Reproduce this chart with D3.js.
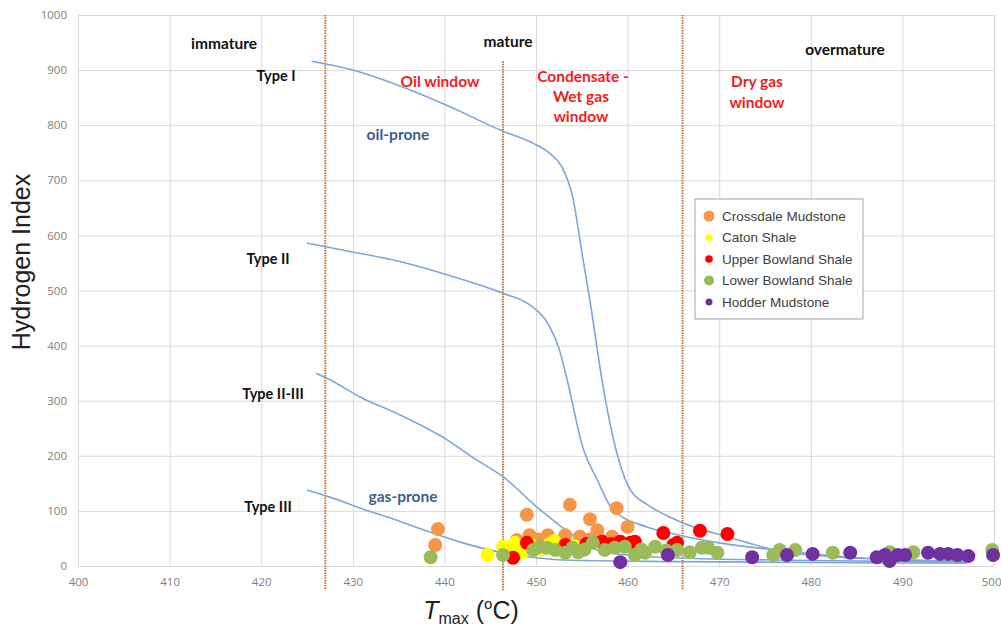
<!DOCTYPE html>
<html>
<head>
<meta charset="utf-8">
<script src="https://cdn.jsdelivr.net/npm/d3@7"></script>
<style>
  body { margin: 0; background: #fff; }
  svg { display: block; }
  .tick text { font-family: 'Open Sans', sans-serif; font-size: 11.5px; fill: #808080; }
  .note { font-family: Lato, sans-serif; font-weight: 700; }
</style>
</head>
<body>
<div id="chart"></div>
<script>
// ---- data ----
const xTicks = [400, 410, 420, 430, 440, 450, 460, 470, 480, 490, 500];
const yTicks = [0, 100, 200, 300, 400, 500, 600, 700, 800, 900, 1000];

// kerogen type curves [Tmax, HI]
const typeI = [[425.5, 916], [430, 900], [435, 872], [440, 838], [446.4, 789], [449.7, 767], [451.5, 749], [452.8, 725], [454, 670], [455.1, 560], [456, 470], [457.2, 338], [458.8, 207], [460.3, 138], [462.1, 112], [464.2, 92], [467, 72], [470.9, 53], [476.3, 28], [484, 15], [497, 9]];
const typeII = [[425, 586], [430, 570], [435, 553], [440, 530], [446.4, 495], [449.3, 474], [451.3, 440], [452.5, 395], [453.4, 338], [455.1, 216], [456.7, 156], [458.4, 102], [462.1, 71], [464.6, 60], [470, 42], [476.3, 29], [485, 15], [497, 8]];
const typeII_III = [[426, 350], [427.5, 338], [431, 305], [434.8, 277], [440.3, 229], [443, 198], [446.4, 162], [450.1, 107], [453.7, 60], [456.7, 29], [460, 20], [465, 15], [480, 10], [497, 7]];
const typeIII = [[425, 138], [427.5, 125], [431, 104], [434.8, 83], [438, 64], [442, 42], [446.4, 24], [450, 15], [453, 11], [465, 8], [497, 5]];

// maturity boundaries [Tmax, top HI]
const boundaries = [[427.0, 1000], [446.4, 916], [466.0, 1000]];

// samples [Tmax, HI]
const crossdale = [[439.3, 67], [439.0, 38], [449.0, 93], [453.7, 111], [455.9, 85], [456.7, 65], [458.8, 105], [460.0, 71], [451.3, 51], [453.2, 56], [454.8, 53], [458.3, 53], [447.9, 47], [449.3, 56], [451.3, 56], [457.0, 47], [452.6, 43], [455.8, 48], [450.2, 48]];
const caton = [[444.7, 20], [446.4, 35], [447.7, 42], [448.5, 25], [449.5, 38], [450.5, 30], [455.1, 29], [452.0, 45], [447.0, 30], [451.5, 40], [454.2, 36]];
const upperBowland = [[449.0, 42], [447.5, 15], [453.2, 38], [457.2, 44], [459.2, 44], [460.3, 42], [460.8, 44], [463.9, 60], [465.0, 38], [467.9, 64], [470.9, 58], [465.4, 42], [455.5, 40], [458.2, 40]];
const lowerBowland = [[438.5, 16], [446.4, 20], [449.7, 29], [450.4, 35], [451.2, 33], [452.1, 29], [453.2, 24], [454.0, 33], [454.6, 25], [455.3, 30], [456.2, 42], [457.5, 29], [458.6, 33], [459.7, 35], [460.8, 20], [461.5, 30], [463.0, 35], [461.9, 24], [464.2, 28], [465.4, 29], [466.8, 25], [468.1, 33], [468.8, 33], [469.8, 24], [475.9, 20], [476.6, 29], [478.3, 29], [482.4, 24], [488.6, 25], [491.2, 25], [499.8, 29]];
const hodder = [[459.2, 7], [464.4, 20], [473.6, 16], [477.4, 20], [480.2, 22], [484.3, 24], [487.2, 16], [488.6, 9], [488.1, 20], [489.5, 20], [490.3, 20], [492.8, 24], [494.1, 22], [495.0, 22], [496.0, 20], [497.2, 18], [499.9, 20]];

const series = [
  { name: 'Crossdale Mudstone', color: '#f79646', values: crossdale, key: 5.5 },
  { name: 'Caton Shale', color: '#ffff00', values: caton, key: 3.5 },
  { name: 'Upper Bowland Shale', color: '#ff0000', values: upperBowland, key: 3.8 },
  { name: 'Lower Bowland Shale', color: '#9bbb59', values: lowerBowland, key: 5 },
  { name: 'Hodder Mudstone', color: '#7030a0', values: hodder, key: 3.5 },
];

// ---- layout ----
const W = 1001, H = 628;

const x = d3.scaleLinear().domain([400, 500]).range([78, 994]);
const y = d3.scaleLinear().domain([0, 1000]).range([566, 15]);

const svg = d3.select('#chart').append('svg').attr('width', W).attr('height', H);

// gridlines + axes
svg.append('g')
  .attr('class', 'axis y')
  .attr('transform', `translate(${x(400)},0)`)
  .call(d3.axisLeft(y).tickValues(yTicks).tickFormat(d3.format('d'))
    .tickSize(-(x(500) - x(400))).tickPadding(11))
  .call((g) => g.select('.domain').remove())
  .call((g) => g.selectAll('.tick line').attr('stroke', '#d9d9d9'));

svg.append('g')
  .attr('class', 'axis x')
  .attr('transform', `translate(0,${y(0)})`)
  .call(d3.axisBottom(x).tickValues(xTicks).tickSize(-(y(0) - y(1000))).tickPadding(12))
  .call((g) => g.select('.domain').remove())
  .call((g) => g.selectAll('.tick line').attr('stroke', '#d9d9d9'))
  // last label sits at the page edge, keep it inside
  .call((g) => g.selectAll('.tick text').filter((d) => d === 500)
    .attr('text-anchor', 'end').attr('dx', 7));

// maturity boundaries (dotted brown)
svg.append('g')
  .selectAll('line')
  .data(boundaries)
  .join('line')
  .attr('x1', (d) => x(d[0]))
  .attr('x2', (d) => x(d[0]))
  .attr('y1', (d) => y(d[1]))
  .attr('y2', y(-44))
  .attr('stroke', '#c5763f')
  .attr('stroke-width', 2)
  .attr('stroke-dasharray', '1.5,1');

// kerogen curves
const line = d3.line()
  .x((d) => x(d[0]))
  .y((d) => y(d[1]))
  .curve(d3.curveMonotoneX);

svg.append('g')
  .selectAll('path')
  .data([typeI, typeII, typeII_III, typeIII])
  .join('path')
  .attr('d', line)
  .attr('fill', 'none')
  .attr('stroke', '#7ea6d6')
  .attr('stroke-width', 1.6);

// samples
const pts = svg.append('g');
series.forEach((s) => {
  pts.append('g')
    .selectAll('circle')
    .data(s.values)
    .join('circle')
    .attr('cx', (d) => x(d[0]))
    .attr('cy', (d) => y(d[1]))
    .attr('r', 7)
    .attr('fill', s.color);
});

// annotations
const notes = [
  { t: 'immature', x: 224, y: 49, c: '#111' },
  { t: 'mature', x: 508, y: 47, c: '#111' },
  { t: 'overmature', x: 845, y: 55, c: '#111' },
  { t: 'Type I', x: 276, y: 81, c: '#111', s: 14.5 },
  { t: 'Type II', x: 268, y: 264, c: '#111', s: 14.5 },
  { t: 'Type II-III', x: 273, y: 399, c: '#111', s: 14.5 },
  { t: 'Type III', x: 268, y: 512, c: '#111', s: 14.5 },
  { t: 'Oil window', x: 440, y: 87, c: '#f21c1c' },
  { t: 'Condensate -', x: 583, y: 82, c: '#f21c1c' },
  { t: 'Wet gas', x: 581, y: 102, c: '#f21c1c' },
  { t: 'window', x: 581, y: 122, c: '#f21c1c' },
  { t: 'Dry gas', x: 757, y: 87, c: '#f21c1c' },
  { t: 'window', x: 757, y: 108, c: '#f21c1c' },
  { t: 'oil-prone', x: 398, y: 140, c: '#3b5d8e' },
  { t: 'gas-prone', x: 403, y: 502, c: '#3b5d8e' },
];

svg.append('g')
  .selectAll('text')
  .data(notes)
  .join('text')
  .attr('class', 'note')
  .attr('x', (d) => d.x)
  .attr('y', (d) => d.y)
  .attr('text-anchor', 'middle')
  .attr('fill', (d) => d.c)
  .style('font-size', (d) => `${d.s || 15.5}px`)
  .text((d) => d.t);

// legend
const legend = svg.append('g').attr('transform', 'translate(695,199)');
legend.append('rect')
  .attr('width', 168)
  .attr('height', 120)
  .attr('fill', '#fff')
  .attr('stroke', '#a6a6a6');

const rows = legend.selectAll('g.row')
  .data(series)
  .join('g')
  .attr('class', 'row')
  .attr('transform', (d, i) => `translate(0,${17 + i * 21.5})`);

rows.append('circle').attr('cx', 14).attr('r', (d) => d.key).attr('fill', (d) => d.color);
rows.append('text')
  .attr('x', 27)
  .attr('dy', '0.35em')
  .style('font-family', "'Liberation Sans', Arial, sans-serif")
  .style('font-size', '13.5px')
  .attr('fill', '#404040')
  .text((d) => d.name);

// axis titles
svg.append('text')
  .attr('transform', `translate(30,262) rotate(-90)`)
  .attr('text-anchor', 'middle')
  .style('font-family', "'Liberation Sans', Arial, sans-serif")
  .style('font-size', '25px')
  .attr('fill', '#222')
  .text('Hydrogen Index');

const xt = svg.append('text')
  .attr('x', 471)
  .attr('y', 619)
  .attr('text-anchor', 'middle')
  .style('font-family', "'Liberation Sans', Arial, sans-serif")
  .style('font-size', '25px')
  .attr('fill', '#222');
xt.append('tspan').style('font-style', 'italic').text('T');
xt.append('tspan').attr('dy', 5).style('font-size', '16px').text('max');
xt.append('tspan').attr('dy', -5).text(' (');
xt.append('tspan').attr('dy', -10).style('font-size', '15px').text('o');
xt.append('tspan').attr('dy', 10).text('C)');
</script>
</body>
</html>
